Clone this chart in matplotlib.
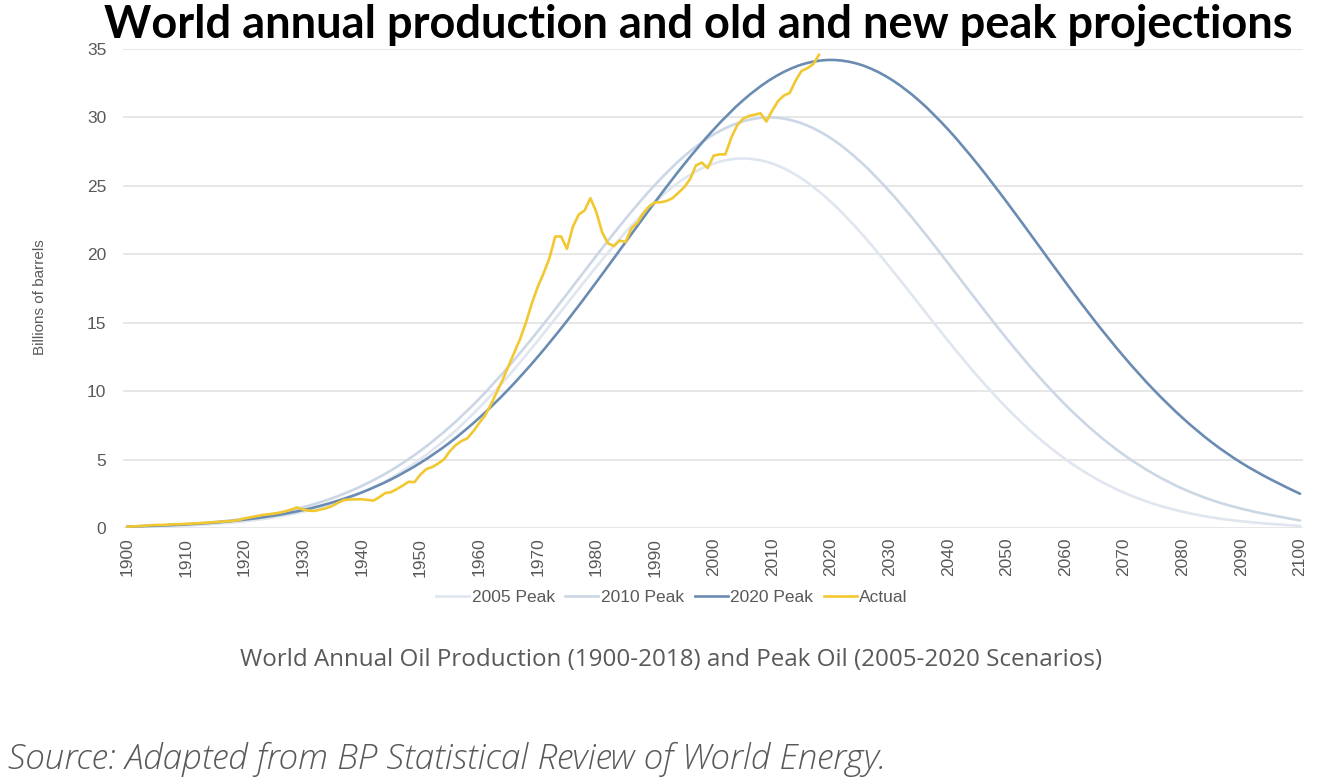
import matplotlib
matplotlib.use("Agg")
import matplotlib.pyplot as plt
from matplotlib.lines import Line2D
from matplotlib.path import Path
from matplotlib.patches import PathPatch

# ---------------- data ----------------
proj_years = list(range(1900, 2101, 5))

peak_2005 = [0.06, 0.10, 0.18, 0.30, 0.49, 0.77, 1.19, 1.77, 2.58, 3.65,
             5.03, 6.73, 8.77, 11.10, 13.67, 16.38, 19.08, 21.62, 23.83, 25.54,
             26.63, 27.00, 26.63, 25.54, 23.83, 21.62, 19.08, 16.38, 13.67, 11.10,
             8.77, 6.73, 5.03, 3.65, 2.58, 1.77, 1.19, 0.77, 0.49, 0.30, 0.15]

peak_2010 = [0.10, 0.17, 0.28, 0.44, 0.68, 1.03, 1.52, 2.18, 3.07, 4.21,
             5.64, 7.38, 9.43, 11.78, 14.36, 17.10, 19.89, 22.60, 25.07, 27.17,
             28.75, 29.71, 30.00, 29.57, 28.48, 26.78, 24.60, 22.07, 19.34, 16.55,
             13.83, 11.29, 9.00, 7.01, 5.33, 3.96, 2.87, 2.03, 1.41, 0.95, 0.55]

peak_2020 = [0.10, 0.17, 0.26, 0.40, 0.61, 0.90, 1.31, 1.87, 2.60, 3.55,
             4.76, 6.24, 8.03, 10.12, 12.50, 15.13, 17.96, 20.89, 23.81, 26.59,
             29.11, 31.24, 32.85, 33.86, 34.20, 33.86, 32.85, 31.24, 29.11, 26.59,
             23.81, 20.89, 17.96, 15.13, 12.50, 10.12, 8.03, 6.24, 4.76, 3.55, 2.50]

actual_years = list(range(1900, 2019))
actual = [0.10, 0.12, 0.14, 0.16, 0.20, 0.22, 0.22, 0.25, 0.27, 0.28,   # 1900s
          0.30, 0.32, 0.34, 0.37, 0.40, 0.43, 0.46, 0.49, 0.52, 0.58,   # 1910s
          0.70, 0.78, 0.86, 0.95, 1.00, 1.05, 1.12, 1.22, 1.35, 1.50,   # 1920s
          1.35, 1.26, 1.25, 1.35, 1.45, 1.62, 1.85, 2.05, 2.08, 2.10,   # 1930s
          2.10, 2.05, 2.00, 2.25, 2.55, 2.62, 2.85, 3.10, 3.38, 3.35,   # 1940s
          3.90, 4.30, 4.45, 4.70, 5.00, 5.60, 6.05, 6.35, 6.55, 7.05,   # 1950s
          7.65, 8.20, 9.00, 9.90, 10.80, 11.80, 12.80, 13.80, 15.00, 16.40,  # 1960s
          17.60, 18.60, 19.70, 21.30, 21.30, 20.40, 22.00, 22.90, 23.20, 24.10,  # 1970s
          23.10, 21.60, 20.80, 20.60, 21.00, 20.90, 21.90, 22.30, 23.00, 23.50,  # 1980s
          23.80, 23.80, 23.90, 24.10, 24.50, 24.90, 25.50, 26.50, 26.70, 26.30,  # 1990s
          27.20, 27.30, 27.30, 28.50, 29.40, 29.90, 30.10, 30.20, 30.30, 29.70,  # 2000s
          30.50, 31.20, 31.60, 31.80, 32.70, 33.40, 33.60, 33.90, 34.60]        # 2010s

x_ticks = list(range(1900, 2101, 10))
y_ticks = [0, 5, 10, 15, 20, 25, 30, 35]
series_labels = ["2005 Peak", "2010 Peak", "2020 Peak", "Actual"]

title_text = "World annual production and old and new peak projections"
caption_text = "World Annual Oil Production (1900-2018) and Peak Oil (2005-2020 Scenarios)"
source_text = "Source: Adapted from BP Statistical Review of World Energy."

# ---------------- style ----------------
col_2005 = "#dfe6ef"
col_2010 = "#cbd7e5"
col_2020 = "#6b8cb2"
col_actual = "#f2c831"
tick_col = "#595959"
lw = 1.9


def smooth_line(ax, xs, ys, color, z):
    """Excel-style smoothed line: Catmull-Rom spline drawn as cubic Bezier."""
    n = len(xs)
    verts = [(xs[0], ys[0])]
    codes = [Path.MOVETO]
    for i in range(n - 1):
        x0, y0 = (xs[i - 1], ys[i - 1]) if i > 0 else (xs[i], ys[i])
        x1, y1 = xs[i], ys[i]
        x2, y2 = xs[i + 1], ys[i + 1]
        x3, y3 = (xs[i + 2], ys[i + 2]) if i + 2 < n else (x2, y2)
        verts += [(x1 + (x2 - x0) / 6, y1 + (y2 - y0) / 6),
                  (x2 - (x3 - x1) / 6, y2 - (y3 - y1) / 6),
                  (x2, y2)]
        codes += [Path.CURVE4] * 3
    ax.add_patch(PathPatch(Path(verts, codes), fill=False, edgecolor=color, lw=lw,
                           capstyle="round", joinstyle="round", zorder=z))


W, H = 1326, 778
fig = plt.figure(figsize=(W / 100, H / 100), dpi=100)
ax_l, ax_r, ax_t, ax_b = 123, 1303, 49, 528
ax = fig.add_axes([ax_l / W, 1 - ax_b / H, (ax_r - ax_l) / W, (ax_b - ax_t) / H])

smooth_line(ax, proj_years, peak_2005, col_2005, 2)
smooth_line(ax, proj_years, peak_2010, col_2010, 3)
smooth_line(ax, proj_years, peak_2020, col_2020, 4)
ax.plot(actual_years, actual, color=col_actual, lw=lw, solid_capstyle="round",
        solid_joinstyle="round", zorder=5)

ax.set_xlim(1899.3, 2100.5)
ax.set_ylim(0, 35)
ax.set_yticks(y_ticks)
ax.set_xticks(x_ticks)
ax.set_xticklabels([str(t) for t in x_ticks], rotation=90)
ax.grid(axis="y", color="#e3e3e3", lw=1.2)
ax.set_axisbelow(True)
for s in ax.spines.values():
    s.set_visible(False)
ax.tick_params(axis="both", length=0, labelcolor=tick_col, labelsize=12.5)
ax.tick_params(axis="y", pad=12)
ax.tick_params(axis="x", pad=7)
for lab in ax.get_xticklabels() + ax.get_yticklabels():
    lab.set_family("Liberation Sans")

fig.text(40 / W, 1 - 297 / H, "Billions of barrels", rotation=90, ha="center", va="center",
         fontsize=11, color=tick_col, family="Liberation Sans")

handles = [Line2D([], [], color=c, lw=lw) for c in (col_2005, col_2010, col_2020, col_actual)]
leg = fig.legend(handles, series_labels, loc="center", bbox_to_anchor=(672 / W, 1 - 597 / H),
                 ncol=4, frameon=False, handlelength=1.9, handletextpad=0.15,
                 columnspacing=0.6, prop={"family": "Liberation Sans", "size": 12.5})
for t in leg.get_texts():
    t.set_color(tick_col)

fig.text(698 / W, 1 - 25 / H, title_text, ha="center", va="center", fontsize=32.5,
         fontweight="bold", family="Lato", color="black", zorder=10)
fig.text(671 / W, 1 - 660 / H, caption_text, ha="center", va="center", fontsize=17.4,
         family="Open Sans", color="#595959")
fig.text(8 / W, 1 - 759 / H, source_text, ha="left", va="center", fontsize=25.3,
         family="Open Sans", style="italic", fontweight="light", color="#595959")

fig.savefig("out.png", dpi=100)
